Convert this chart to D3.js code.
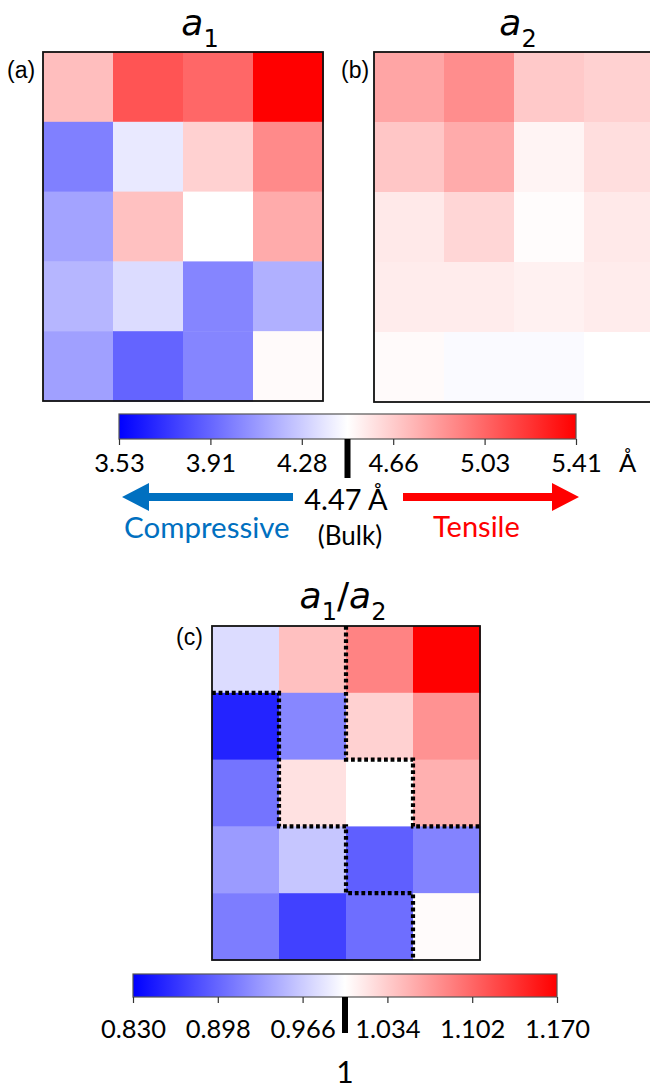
<!DOCTYPE html>
<html>
<head>
<meta charset="utf-8">
<script src="https://cdn.jsdelivr.net/npm/d3@7"></script>
<style>
  body { margin: 0; background: #fff; }
  svg { display: block; }
</style>
</head>
<body>
<svg width="650" height="1089"></svg>
<script>
  'use strict';

  // grid categories
  const rows = [0, 1, 2, 3, 4];
  const cols = [0, 1, 2, 3];

  // lattice parameter a1 (Å)
  const a1 = [
    [4.71, 5.10, 5.03, 5.41],
    [4.00, 4.39, 4.64, 4.90],
    [4.13, 4.70, 4.47, 4.78],
    [4.20, 4.34, 4.02, 4.18],
    [4.12, 3.90, 4.02, 4.49]
  ];

  // lattice parameter a2 (Å), panel (b)
  const a2 = [
    [4.80, 4.89, 4.67, 4.64],
    [4.68, 4.78, 4.51, 4.59],
    [4.55, 4.62, 4.48, 4.55],
    [4.54, 4.54, 4.52, 4.54],
    [4.49, 4.45, 4.45, 4.47]
  ];

  // ratio a1/a2, panel (c)
  const ratio = [
    [0.977, 1.042, 1.083, 1.170],
    [0.853, 0.920, 1.031, 1.073],
    [0.907, 1.020, 1.000, 1.053],
    [0.933, 0.962, 0.893, 0.917],
    [0.913, 0.873, 0.903, 1.003]
  ];

  // dotted domain boundaries in panel (c), grid corner coords [col, row]
  const boundaries = [
    [[2, 0], [2, 2], [3, 2], [3, 3], [4, 3]],
    [[0, 1], [1, 1], [1, 3], [2, 3], [2, 4], [3, 4], [3, 5]]
  ];

  const latticeDomain = [3.53, 4.47, 5.41];
  const latticeTicks = [3.53, 3.906, 4.282, 4.658, 5.034, 5.41];
  const bulkValue = 4.47;
  const ratioDomain = [0.83, 1.0, 1.17];
  const ratioTicks = [0.830, 0.898, 0.966, 1.034, 1.102, 1.170];
  const ratioMark = 1;

  const svg = d3.select('svg');
  const blue = '#0070c0';
  const txtFont = 'Lato, "Open Sans", sans-serif';

  const bwr = dom => d3.scaleLinear().domain(dom).range(['#0000ff', '#ffffff', '#ff0000']).clamp(true);
  const latticeColor = bwr(latticeDomain);
  const ratioColor = bwr(ratioDomain);

  function heatmap(data, color, x0, x1, y0, y1) {
    const x = d3.scaleBand().domain(cols).range([x0, x1]);
    const y = d3.scaleBand().domain(rows).range([y0, y1]);
    const g = svg.append('g');
    const cells = [];
    data.forEach((r, i) => r.forEach((v, j) => cells.push({ i, j, v })));
    g.selectAll('rect.cell').data(cells).enter().append('rect')
      .attr('class', 'cell')
      .attr('x', d => x(d.j))
      .attr('y', d => y(d.i))
      .attr('width', x.bandwidth() + 0.5)
      .attr('height', y.bandwidth() + 0.5)
      .attr('fill', d => color(d.v));
    g.append('rect')
      .attr('x', x0).attr('y', y0)
      .attr('width', x1 - x0).attr('height', y1 - y0)
      .attr('fill', 'none').attr('stroke', '#111').attr('stroke-width', 1.8);
    return { x0, x1, y0, y1 };
  }

  function title(cx, y, parts) {
    const t = svg.append('text')
      .attr('x', cx).attr('y', y)
      .attr('text-anchor', 'middle')
      .attr('font-family', '"DejaVu Sans", sans-serif')
      .attr('fill', '#000');
    let sub = false;
    parts.forEach(p => {
      const s = t.append('tspan').text(p.t);
      if (p.sub) {
        s.attr('font-size', 24).attr('dy', sub ? 0 : 12);
        sub = true;
      } else {
        s.attr('font-size', 36).attr('dy', sub ? -12 : 0);
        sub = false;
      }
      if (p.it) s.attr('font-style', 'italic');
    });
  }

  function panelLabel(x, y, s) {
    svg.append('text').attr('x', x).attr('y', y)
      .attr('font-family', '"Liberation Sans", Arial, sans-serif')
      .attr('font-size', 23).text(s);
  }

  function colorbar(color, domain, ticks, fmt, x0, x1, y0, y1, id, markVal, markBottom, fontSize, pad) {
    const defs = svg.append('defs');
    const grad = defs.append('linearGradient').attr('id', id);
    d3.range(0, 1.0001, 0.05).forEach(t => {
      grad.append('stop')
        .attr('offset', t)
        .attr('stop-color', color(domain[0] + t * (domain[2] - domain[0])));
    });
    const sx = d3.scaleLinear().domain([domain[0], domain[2]]).range([x0, x1]);
    svg.append('rect')
      .attr('x', x0).attr('y', y0).attr('width', x1 - x0).attr('height', y1 - y0)
      .attr('fill', `url(#${id})`).attr('stroke', '#555').attr('stroke-width', 1.2);
    const ax = svg.append('g')
      .attr('transform', `translate(0,${y1})`)
      .call(d3.axisBottom(sx).tickValues(ticks).tickFormat(d3.format(fmt)).tickSize(6).tickPadding(pad));
    ax.select('.domain').remove();
    ax.selectAll('.tick line').attr('stroke', '#333').attr('stroke-width', 1.2);
    ax.selectAll('.tick text')
      .attr('font-family', txtFont)
      .attr('font-size', fontSize)
      .attr('fill', '#000');
    svg.append('rect')
      .attr('x', sx(markVal) - 3).attr('y', y1)
      .attr('width', 6).attr('height', markBottom - y1)
      .attr('fill', '#000');
    return sx;
  }

  // panels (a) and (b)
  heatmap(a1, latticeColor, 43, 323, 52, 401);
  heatmap(a2, latticeColor, 374, 654, 52, 402);
  title(200, 35, [{ t: 'a', it: true }, { t: '1', sub: true }]);
  title(518, 35, [{ t: 'a', it: true }, { t: '2', sub: true }]);
  panelLabel(7, 78, '(a)');
  panelLabel(341, 78, '(b)');

  // lattice colorbar
  const lx = colorbar(latticeColor, latticeDomain, latticeTicks, '.2f', 119, 576, 414, 439, 'gradA', bulkValue, 478, 25.5, 9);
  svg.append('text').attr('x', 619).attr('y', 472)
    .attr('font-family', txtFont).attr('font-size', 25.5).text('Å');

  // strain arrows
  const arrowY = 497;
  function arrow(xTail, xTip, fill) {
    const dir = Math.sign(xTip - xTail);
    const head = 27, half = 14, shaft = 4;
    const xb = xTip - dir * head;
    const pts = [
      [xTail, arrowY - shaft], [xb, arrowY - shaft], [xb, arrowY - half],
      [xTip, arrowY], [xb, arrowY + half], [xb, arrowY + shaft], [xTail, arrowY + shaft]
    ];
    svg.append('path').attr('d', d3.line()(pts) + 'Z').attr('fill', fill);
  }
  arrow(293, lx(latticeDomain[0]) + 3, blue);
  arrow(403, lx(latticeDomain[2]) + 3, '#ff0000');

  svg.append('text').attr('x', 346).attr('y', 510)
    .attr('text-anchor', 'middle')
    .attr('font-family', txtFont).attr('font-size', 29)
    .text('4.47 Å');
  svg.append('text').attr('x', 350).attr('y', 545)
    .attr('text-anchor', 'middle')
    .attr('font-family', txtFont).attr('font-size', 26)
    .text('(Bulk)');
  svg.append('text').attr('x', 124).attr('y', 538)
    .attr('font-family', txtFont).attr('font-size', 29.5)
    .attr('fill', blue).text('Compressive');
  svg.append('text').attr('x', 433).attr('y', 537)
    .attr('font-family', txtFont).attr('font-size', 29)
    .attr('fill', '#ff0000').text('Tensile');

  // panel (c)
  const pc = heatmap(ratio, ratioColor, 212, 480, 626, 960);
  title(343, 608, [{ t: 'a', it: true }, { t: '1', sub: true }, { t: '/' }, { t: 'a', it: true }, { t: '2', sub: true }]);
  panelLabel(176, 645, '(c)');

  const gx = d3.scaleLinear().domain([0, cols.length]).range([pc.x0, pc.x1]);
  const gy = d3.scaleLinear().domain([0, rows.length]).range([pc.y0, pc.y1]);
  svg.append('g').selectAll('path').data(boundaries).enter().append('path')
    .attr('d', d3.line().x(d => gx(d[0])).y(d => gy(d[1])))
    .attr('fill', 'none')
    .attr('stroke', '#000')
    .attr('stroke-width', 4.2)
    .attr('stroke-dasharray', '3.8,2.8');

  // ratio colorbar
  const rx = colorbar(ratioColor, ratioDomain, ratioTicks, '.3f', 133, 557, 974, 997, 'gradC', ratioMark, 1033, 25.5, 17);
  svg.append('text').attr('x', rx(ratioMark)).attr('y', 1083)
    .attr('text-anchor', 'middle')
    .attr('font-family', txtFont).attr('font-size', 30)
    .text('1');
</script>
</body>
</html>
